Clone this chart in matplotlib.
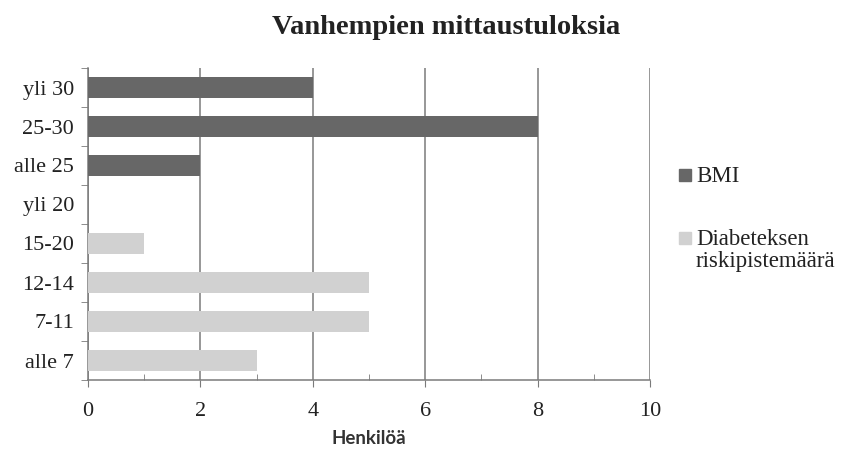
import matplotlib
matplotlib.use("Agg")
import matplotlib.pyplot as plt
from matplotlib.patches import Rectangle
from matplotlib.ticker import MultipleLocator

# categories from top to bottom
bmi_labels = ["yli 30", "25-30", "alle 25"]
bmi_values = [4, 8, 2]
diab_labels = ["yli 20", "15-20", "12-14", "7-11", "alle 7"]
diab_values = [0, 1, 5, 5, 3]

TITLE = "Vanhempien mittaustuloksia"
XLABEL = "Henkilöä"
SERIES = ["BMI", "Diabeteksen\nriskipistemäärä"]
DARK = "#676767"
LIGHT = "#d1d1d1"
SERIF = ["Liberation Serif", "DejaVu Serif"]

W, H = 843, 455

labels = bmi_labels + diab_labels
n = len(labels)
pos_bmi = list(range(len(bmi_labels)))
pos_diab = list(range(len(bmi_labels), n))

fig = plt.figure(figsize=(W / 100, H / 100), dpi=100)
ax = fig.add_axes([88 / W, 1 - 380 / H, (650 - 88) / W, (380 - 68) / H])

ax.barh(pos_bmi, bmi_values, height=0.56, color=DARK, zorder=3)
ax.barh(pos_diab, diab_values, height=0.56, color=LIGHT, zorder=3)

ax.set_xlim(0, 10)
ax.set_ylim(n - 0.5, -0.5)
ax.xaxis.set_major_locator(MultipleLocator(2))
ax.xaxis.set_minor_locator(MultipleLocator(1))
ax.grid(axis="x", which="major", color="#7a7a7a", linewidth=1.1, zorder=0)

ax.set_yticks(range(n))
ax.set_yticklabels(labels, fontfamily=SERIF, fontsize=16, color="#222222")
ax.set_yticks([i - 0.5 for i in range(n + 1)], minor=True)
ax.tick_params(axis="y", which="major", length=0, pad=10)
ax.tick_params(axis="y", which="minor", length=5, direction="out", color="#7a7a7a")
ax.tick_params(axis="x", which="major", length=5, direction="out", color="#7a7a7a",
               labelsize=16, pad=11, labelcolor="#222222")
ax.tick_params(axis="x", which="minor", length=4, direction="in", color="#7a7a7a")
for lab in ax.get_xticklabels():
    lab.set_fontfamily(SERIF)

for side in ["top", "right"]:
    ax.spines[side].set_visible(False)
for side in ["left", "bottom"]:
    ax.spines[side].set_color("#7a7a7a")
    ax.spines[side].set_linewidth(1.1)

ax.set_xlabel(XLABEL, fontfamily=["Lato", "DejaVu Sans"], fontweight="bold",
              fontsize=13.5, color="#333333", labelpad=6)
fig.text(0.529, 1 - 27 / H, TITLE, ha="center", va="center", fontfamily=SERIF,
         fontweight="bold", fontsize=20.5, color="#222222")

# legend drawn by hand: square next to the first line of each label
for name, color, y in zip(SERIES, [DARK, LIGHT], [175, 238]):
    fig.patches.append(Rectangle((679 / W, 1 - (y + 6) / H), 12 / W, 12 / H,
                                 transform=fig.transFigure, color=color))
    fig.text(696 / W, 1 - (y - 9) / H, name, ha="left", va="top",
             fontfamily=SERIF, fontsize=16.5, color="#222222", linespacing=1.08)

fig.savefig("out.png", dpi=100)
